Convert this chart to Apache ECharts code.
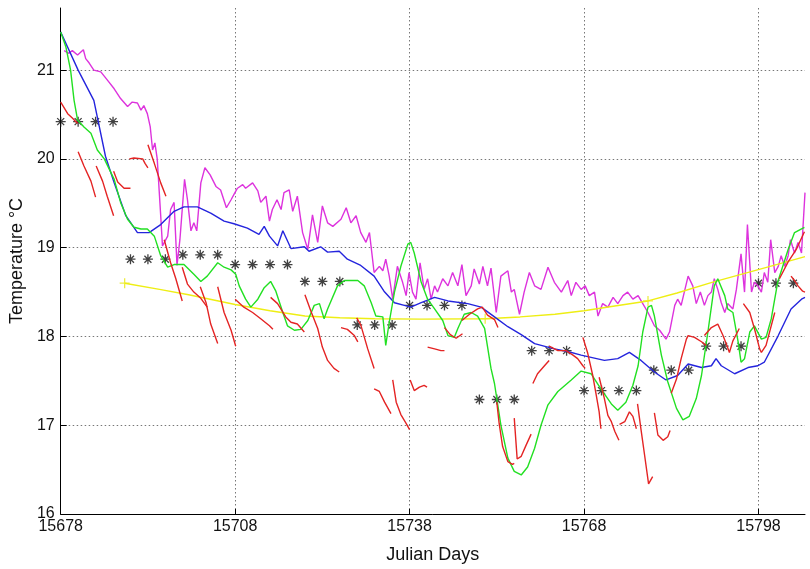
<!DOCTYPE html>
<html>
<head>
<meta charset="utf-8">
<script src="https://cdn.jsdelivr.net/npm/echarts@6/dist/echarts.min.js"></script>
<style>
  html, body { margin: 0; padding: 0; background: #fff; }
  #chart { width: 810px; height: 569px; }
</style>
</head>
<body>
<div id="chart"></div>
<script>
// Axis ticks
const xTicks = [15678, 15708, 15738, 15768, 15798];
const yTicks = [16, 17, 18, 19, 20, 21];

// Magenta record
const magentaDays = [15678.6,15679.4,15680.0,15680.9,15681.9,15682.3,15682.9,15683.7,15684.9,15686.0,15687.2,15688.3,15689.5,15690.3,15691.2,15691.8,15692.3,15692.9,15693.4,15693.8,15694.2,15694.6,15695.2,15695.5,15696.4,15696.9,15697.5,15698.0,15698.5,15699.3,15699.8,15700.4,15700.9,15701.4,15702.1,15702.8,15703.7,15704.7,15705.5,15706.5,15707.3,15707.8,15708.4,15709.3,15709.8,15711.0,15711.9,15712.4,15713.3,15713.9,15714.4,15715.2,15715.9,15716.4,15717.3,15717.9,15718.7,15719.6,15720.5,15721.3,15722.2,15723.0,15723.9,15724.8,15726.2,15727.1,15727.9,15728.8,15729.6,15730.5,15731.1,15731.9,15732.8,15733.4,15733.9,15734.5,15735.1,15735.9,15736.8,15737.4,15737.9,15738.5,15739.1,15739.8,15740.5,15741.1,15741.7,15742.3,15742.8,15743.7,15744.6,15745.4,15746.3,15747.0,15747.7,15748.6,15749.1,15750.0,15750.6,15751.4,15752.0,15752.9,15753.7,15754.9,15755.5,15756.0,15756.9,15757.7,15758.6,15759.5,15760.6,15761.8,15762.9,15764.1,15765.2,15765.8,15766.6,15767.5,15768.2,15768.9,15769.8,15770.4,15771.2,15772.1,15773.0,15773.8,15774.7,15775.5,15776.4,15777.3,15778.1,15779.0,15780.1,15781.0,15782.1,15782.7,15783.6,15784.1,15784.7,15785.9,15786.7,15787.3,15788.0,15788.7,15789.3,15789.9,15790.4,15791.0,15791.6,15792.2,15792.7,15793.6,15794.2,15795.0,15795.6,15796.1,15796.8,15797.3,15797.9,15798.5,15799.0,15799.6,15800.1,15800.8,15801.4,15801.9,15802.5,15803.1,15803.5,15804.2,15804.8,15805.4,15806.0];
const magentaTemps = [21.22,21.19,21.22,21.17,21.23,21.13,21.08,21.00,20.98,20.89,20.79,20.68,20.59,20.64,20.63,20.55,20.60,20.51,20.36,20.10,20.18,20.00,19.36,19.02,19.13,19.43,19.51,18.80,19.09,19.77,19.54,19.19,19.28,19.19,19.73,19.90,19.82,19.69,19.65,19.45,19.54,19.60,19.67,19.71,19.67,19.73,19.64,19.51,19.58,19.30,19.43,19.54,19.43,19.62,19.65,19.41,19.58,19.17,18.98,19.37,19.06,19.47,19.28,19.24,19.32,19.45,19.28,19.36,19.17,19.06,19.17,18.72,18.79,18.74,18.87,18.68,18.42,18.79,18.61,18.46,18.72,18.50,18.42,18.83,18.53,18.65,18.42,18.57,18.50,18.65,18.57,18.72,18.57,18.81,18.46,18.57,18.76,18.59,18.79,18.57,18.77,18.27,18.68,18.74,18.50,18.53,18.25,18.50,18.72,18.57,18.53,18.78,18.61,18.50,18.63,18.46,18.61,18.53,18.57,18.46,18.50,18.23,18.37,18.33,18.44,18.37,18.46,18.50,18.42,18.46,18.37,18.27,18.12,18.07,17.97,18.05,18.35,18.42,18.35,18.68,18.57,18.37,18.50,18.35,18.46,18.50,18.65,18.53,18.38,18.27,18.37,18.31,18.53,18.93,18.50,19.26,18.50,18.61,18.57,18.50,18.72,18.61,19.09,18.72,18.79,18.91,18.79,18.91,19.09,18.94,19.06,18.94,19.62];

// Blue record
const blueDays = [15678.0,15681.0,15683.7,15685.7,15687.2,15689.2,15691.2,15693.2,15695.2,15697.5,15699.2,15701.5,15703.8,15706.1,15707.8,15710.1,15712.1,15713.0,15713.9,15715.3,15716.2,15717.6,15719.9,15720.7,15722.7,15723.9,15725.9,15727.3,15729.6,15731.9,15733.6,15735.4,15737.1,15738.2,15740.0,15742.3,15744.6,15748.0,15750.3,15752.6,15754.9,15757.2,15759.5,15762.9,15765.2,15767.5,15771.5,15773.8,15775.8,15777.8,15780.1,15782.1,15784.1,15785.9,15788.2,15789.9,15790.7,15791.6,15793.9,15796.2,15797.9,15799.0,15801.4,15803.6,15805.4,15806.0];
const blueTemps = [21.43,21.00,20.66,20.03,19.73,19.36,19.17,19.17,19.26,19.41,19.46,19.46,19.39,19.30,19.27,19.22,19.15,19.24,19.13,19.02,19.19,18.99,19.01,18.96,19.01,18.95,18.96,18.87,18.80,18.68,18.51,18.38,18.35,18.33,18.38,18.44,18.40,18.37,18.33,18.22,18.11,18.02,17.92,17.86,17.83,17.79,17.73,17.75,17.82,17.73,17.60,17.51,17.56,17.69,17.65,17.67,17.75,17.67,17.58,17.65,17.67,17.71,18.01,18.31,18.42,18.44];

// Green record
const greenDays = [15678.0,15678.9,15679.7,15680.3,15680.9,15682.0,15683.2,15684.3,15685.5,15687.2,15688.3,15689.5,15690.6,15691.8,15692.9,15694.1,15695.2,15696.4,15697.5,15699.2,15700.9,15702.1,15703.2,15705.0,15706.1,15707.3,15708.1,15708.7,15709.8,15710.7,15711.9,15713.0,15714.1,15715.0,15716.2,15717.0,15718.2,15719.3,15720.5,15721.6,15722.5,15723.3,15723.9,15725.6,15726.8,15729.1,15730.2,15731.4,15732.2,15733.4,15733.9,15734.5,15735.4,15736.5,15737.7,15738.2,15738.8,15740.0,15741.1,15742.3,15743.7,15744.6,15745.7,15746.3,15747.4,15748.6,15749.7,15750.9,15752.0,15752.6,15753.7,15754.9,15756.0,15757.2,15758.3,15759.5,15760.6,15761.8,15763.5,15765.8,15767.5,15769.2,15770.9,15772.7,15773.8,15775.2,15776.4,15777.3,15778.1,15779.0,15779.6,15780.1,15781.3,15782.4,15783.9,15785.0,15786.1,15787.3,15788.2,15789.3,15790.4,15791.0,15792.2,15792.7,15793.6,15794.5,15795.0,15795.6,15796.5,15797.3,15798.5,15799.3,15800.2,15801.3,15803.1,15804.2,15805.9];
const greenTemps = [21.43,21.26,21.00,20.66,20.44,20.36,20.29,20.10,20.00,19.77,19.51,19.32,19.23,19.21,19.21,19.13,18.91,18.78,18.81,18.81,18.70,18.62,18.68,18.83,18.78,18.75,18.70,18.57,18.42,18.33,18.42,18.55,18.62,18.51,18.27,18.12,18.07,18.08,18.18,18.35,18.37,18.20,18.31,18.57,18.63,18.63,18.57,18.38,18.23,18.22,17.90,18.16,18.50,18.79,19.04,19.06,18.94,18.61,18.42,18.31,18.18,18.01,17.99,18.09,18.25,18.27,18.23,18.09,17.64,17.47,17.00,16.63,16.48,16.44,16.53,16.74,17.00,17.23,17.38,17.51,17.61,17.58,17.41,17.24,17.17,17.26,17.45,17.67,18.05,18.33,18.35,18.23,17.79,17.49,17.19,17.06,17.10,17.30,17.56,18.05,18.57,18.65,18.46,18.31,18.27,17.94,17.71,17.75,18.05,18.12,17.97,17.99,18.20,18.61,18.98,19.17,19.23];

// Red record: short pieces, null marks a break between pieces
const redDays = [15678.0,15679.2,15680.0,15680.9,null,15681.0,15682.0,15683.2,15684.0,null,15684.1,15685.2,15686.0,15687.1,null,15687.1,15687.8,15688.9,15690.0,null,15689.8,15690.6,15692.1,15692.5,15693.0,null,15693.0,15694.1,15695.2,15696.1,null,15695.8,15696.9,15697.8,15698.9,null,15698.9,15699.8,15700.9,15702.1,15703.2,null,15702.0,15703.0,15703.8,15705.0,null,15705.0,15706.1,15707.3,15708.1,null,15708.0,15709.5,15711.0,15712.4,15713.9,15714.5,null,15714.1,15715.3,15716.7,15717.6,15718.7,15719.9,null,15720.0,15721.0,15722.2,15723.0,15723.9,15725.0,15725.9,null,15726.2,15727.3,15728.5,15729.1,null,15728.9,15729.6,15730.8,15731.9,null,15731.9,15732.8,15733.7,15734.8,null,15735.1,15735.7,15736.5,15737.4,15738.0,null,15738.1,15738.8,15739.7,15740.5,15741.0,null,15741.1,15742.3,15743.4,15744.0,null,15744.0,15745.0,15746.0,15747.1,null,15747.0,15748.3,15749.7,15750.5,15751.4,15752.6,15753.2,null,15753.0,15753.4,15754.0,15754.9,15755.7,15756.0,null,15756.0,15756.5,15757.2,15758.0,15758.9,null,15759.2,15760.0,15761.2,15762.0,null,15762.0,15763.5,15764.9,15766.1,15766.9,15767.8,15768.2,null,15767.8,15768.6,15769.5,15770.1,15770.6,15770.9,null,15770.6,15771.5,15772.1,15772.7,15773.3,15774.0,null,15774.1,15775.0,15775.8,15776.4,15777.0,null,15777.2,15777.8,15778.4,15779.1,15779.8,null,15780.1,15780.7,15781.6,15782.4,15782.8,null,15783.0,15783.9,15784.7,15785.6,15785.9,15787.0,15788.2,15789.0,null,15788.7,15789.9,15791.0,15791.9,15792.5,15793.0,15793.6,15794.7,null,15795.4,15796.5,15797.3,15798.2,15798.5,15799.3,15800.8,null,15801.6,15803.1,15804.5,15805.9,null,15803.6,15804.2,15804.8,15805.6,15806.0];
const redTemps = [20.64,20.51,20.46,20.40,null,20.08,19.92,19.75,19.57,null,19.92,19.75,19.58,19.36,null,19.86,19.74,19.67,19.67,null,20.00,20.01,20.00,19.95,19.90,null,20.16,19.95,19.73,19.58,null,19.09,18.83,18.65,18.40,null,18.78,18.59,18.50,18.43,18.33,null,18.56,18.38,18.14,17.92,null,18.56,18.27,18.07,17.89,null,18.42,18.33,18.27,18.20,18.12,18.08,null,18.44,18.37,18.22,18.16,18.14,18.05,null,18.47,18.29,18.09,17.88,17.73,17.64,17.60,null,18.10,18.08,18.01,17.94,null,18.21,18.13,17.86,17.64,null,17.41,17.38,17.26,17.13,null,17.51,17.26,17.12,17.02,16.95,null,17.51,17.39,17.43,17.45,17.43,null,17.88,17.86,17.84,17.84,null,18.10,18.02,17.98,18.03,null,18.18,18.25,18.31,18.33,18.24,18.19,18.10,null,17.26,17.02,16.76,16.59,16.56,16.57,null,17.08,16.62,16.65,16.77,16.90,null,17.47,17.58,17.67,17.73,null,17.89,17.84,17.84,17.79,17.75,17.67,17.64,null,17.99,17.82,17.56,17.34,17.15,16.96,null,17.54,17.30,17.11,17.04,16.93,16.83,null,17.01,17.04,17.15,17.10,16.96,null,17.24,16.95,16.67,16.34,16.42,null,17.14,16.89,16.83,16.87,16.94,null,17.36,17.52,17.75,17.97,18.01,17.99,17.94,17.90,null,18.01,18.10,18.14,18.01,17.91,17.82,17.95,18.09,null,18.37,18.27,18.09,17.86,17.82,17.90,18.27,null,18.65,18.84,18.98,19.18,null,18.68,18.63,18.57,18.51,18.50];

// Yellow fitted curve and its marked points
const yellowDays = [15689,15695,15700,15708,15714,15720,15726,15732,15740,15751,15757,15763,15768,15773,15779,15784,15790,15795,15800,15806];
const yellowTemps = [18.60,18.53,18.47,18.36,18.29,18.23,18.21,18.20,18.195,18.20,18.22,18.25,18.29,18.34,18.40,18.49,18.61,18.70,18.79,18.90];
const yellowMarkIdx = [0, 9, 14];

// Star markers, every 3 days
const starDays = [15678,15681,15684,15687,15690,15693,15696,15699,15702,15705,15708,15711,15714,15717,15720,15723,15726,15729,15732,15735,15738,15741,15744,15747,15750,15753,15756,15759,15762,15765,15768,15771,15774,15777,15780,15783,15786,15789,15792,15795,15798,15801,15804];
const starTemps = [20.42,20.42,20.42,20.42,18.87,18.87,18.87,18.92,18.92,18.92,18.81,18.81,18.81,18.81,18.62,18.62,18.62,18.13,18.13,18.13,18.35,18.35,18.35,18.35,17.29,17.29,17.29,17.84,17.84,17.84,17.39,17.39,17.39,17.39,17.62,17.62,17.62,17.89,17.89,17.89,18.60,18.60,18.60];

const pairs = (xs, ys) => xs.map((x, i) => [x, ys[i]]);

function lineSeries(data, color) {
  return {
    type: 'line', data: data, showSymbol: false, symbol: 'none',
    lineStyle: { color: color, width: 1.4 }, silent: true, animation: false
  };
}

// split the red record at its breaks
const redPieces = [];
let piece = [];
redDays.forEach((d, i) => {
  if (d === null) { if (piece.length) redPieces.push(piece); piece = []; }
  else piece.push([d, redTemps[i]]);
});
if (piece.length) redPieces.push(piece);

const FONT = 'Liberation Sans, Arial, Helvetica, sans-serif';
const gridLine = { show: true, showMinLine: false,
  lineStyle: { color: '#777', width: 1, type: [1.5, 2.5] } };
const plain = v => String(v);

const series = [];
series.push(lineSeries(pairs(magentaDays, magentaTemps), '#dd33dd'));
series.push(lineSeries(pairs(yellowDays, yellowTemps), '#eeee14'));
series.push(lineSeries(pairs(blueDays, blueTemps), '#2424dd'));
series.push(lineSeries(pairs(greenDays, greenTemps), '#22e022'));
redPieces.forEach(p => series.push(lineSeries(p, '#e42424')));
series.push({
  type: 'scatter', silent: true, animation: false,
  data: yellowMarkIdx.map(i => [yellowDays[i], yellowTemps[i]]),
  symbol: 'path://M0,5L10,5M5,0L5,10', symbolSize: 10,
  itemStyle: { color: 'transparent', borderColor: '#e8e814', borderWidth: 1.3 }
});
series.push({
  type: 'scatter', silent: true, animation: false,
  data: pairs(starDays, starTemps),
  symbol: 'path://M0,5L10,5M5,0L5,10M1.5,1.5L8.5,8.5M8.5,1.5L1.5,8.5', symbolSize: 10,
  itemStyle: { color: 'transparent', borderColor: '#111', borderWidth: 1.3 }
});

const chart = echarts.init(document.getElementById('chart'), null, { renderer: 'canvas' });
chart.setOption({
  backgroundColor: '#fff',
  animation: false,
  grid: { left: 60, right: 5, top: 8, bottom: 53, containLabel: false },
  xAxis: {
    type: 'value', min: 15678, max: 15806, interval: 30,
    name: 'Julian Days', nameLocation: 'middle', nameGap: 32,
    nameTextStyle: { fontFamily: FONT, fontSize: 18, color: '#111' },
    axisLine: { show: true, onZero: false, lineStyle: { color: '#000', width: 1 } },
    axisTick: { show: true, inside: true, length: 5, customValues: xTicks, lineStyle: { color: '#000' } },
    axisLabel: { customValues: xTicks, formatter: plain, fontFamily: FONT, fontSize: 16, color: '#111', margin: 5 },
    splitLine: gridLine
  },
  yAxis: {
    type: 'value', min: 16, max: 21.7, interval: 1,
    name: 'Temperature °C', nameLocation: 'middle', nameGap: 31,
    nameTextStyle: { fontFamily: FONT, fontSize: 18, color: '#111' },
    axisLine: { show: true, onZero: false, lineStyle: { color: '#000', width: 1 } },
    axisTick: { show: true, inside: true, length: 6, customValues: yTicks, lineStyle: { color: '#000' } },
    axisLabel: { customValues: yTicks, formatter: plain, fontFamily: FONT, fontSize: 16, color: '#111', margin: 6 },
    splitLine: gridLine
  },
  series: series
});
</script>
</body>
</html>
